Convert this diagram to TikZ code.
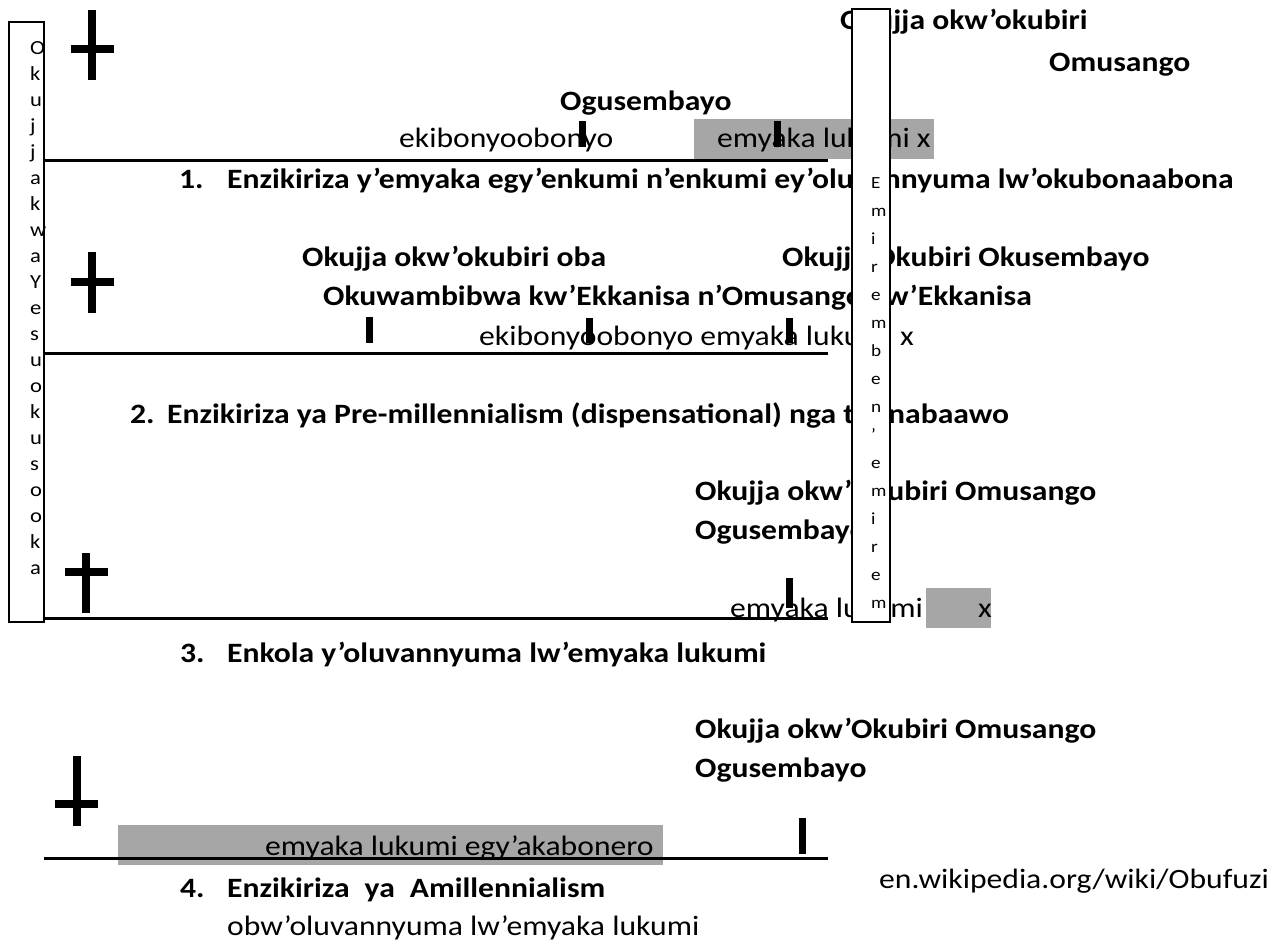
\documentclass[tikz,border=0pt]{standalone}
\usepackage{fontspec}
\setmainfont{Carlito}[FakeStretch=1.13]
\usepackage{tikz}
\usetikzlibrary{positioning}

\definecolor{greyband}{HTML}{A6A6A6}

\begin{document}
\begin{tikzpicture}[x = 1pt, y = -1pt,
    txt/.style = {anchor = base west, inner sep = 0pt, font = \fontsize{28}{34}\selectfont},
    btxt/.style = {anchor = base west, inner sep = 0pt, font = \fontsize{28}{34}\selectfont\bfseries},
    letter/.style = {anchor = base west, inner sep = 0pt, font = \fontsize{20}{22}\selectfont},
    smallletter/.style = {anchor = base west, inner sep = 0pt, font = \fontsize{17}{20}\selectfont},
    baseline rule/.style = {line width = 3pt},
    tickbar/.style = {line width = 7pt},
    crossbar/.style = {line width = 8pt},
    sidebox/.style = {line width = 2pt}]
      \useasboundingbox[fill = white] (0,0) rectangle (1273,943);

      \fill[greyband] (694,119) rectangle (934,159);
      \fill[greyband] (926,588) rectangle (991,628);
      \fill[greyband] (118,825) rectangle (663,865);

      \draw[baseline rule] (44,160) -- (828,160);
      \draw[baseline rule] (44,353) -- (828,353);
      \draw[baseline rule] (44,618) -- (828,618);
      \draw[baseline rule] (44,858) -- (828,858);

      \draw[crossbar] (92,10) -- (92,80);
      \draw[crossbar] (71,49) -- (114,49);
      \draw[crossbar] (92,252) -- (92,313);
      \draw[crossbar] (71,282) -- (114,282);
      \draw[crossbar] (86,553) -- (86,613);
      \draw[crossbar] (65,572) -- (108,572);
      \draw[crossbar] (77,756) -- (77,826);
      \draw[crossbar] (55,804) -- (98,804);

      \node[btxt] (jja1) at (840,29) {Okujja okw’okubiri};
      \node[btxt] (sango1) at (1049,71) {Omusango};
      \node[btxt] (semb1) at (560,110) {Ogusembayo};
      \node[txt] (kibo1) at (399,147) {ekibonyoobonyo};
      \node[txt] (myaka1) at (717,147) {emyaka lukumi x};
      \node[btxt] (num1) at (179,188) {1.};
      \node[btxt] (view1) at (227,188) {Enzikiriza y’emyaka egy’enkumi n’enkumi ey’oluvannyuma lw’okubonaabona};

      \node[btxt] (jja2) at (302,266) {Okujja okw’okubiri oba};
      \node[btxt] (jjb2) at (782,266) {Okujja Okubiri Okusembayo};
      \node[btxt] (wamb2) at (323,305) {Okuwambibwa kw’Ekkanisa n’Omusango kw’Ekkanisa};
      \node[txt] (kibo2) at (479,345) {ekibonyoobonyo emyaka lukumi x};
      \node[btxt] (num2) at (130,423) {2.};
      \node[btxt] (view2) at (167,423) {Enzikiriza ya Pre-millennialism (dispensational) nga tunnabaawo};

      \node[btxt] (jja3) at (695,500) {Okujja okw’Okubiri Omusango};
      \node[btxt] (semb3) at (695,539) {Ogusembayo};
      \node[txt] (myaka3) at (730,617) {emyaka lukumi};
      \node[txt] (x3) at (978,617) {x};
      \node[btxt] (num3) at (180,662) {3.};
      \node[btxt] (view3) at (227,662) {Enkola y’oluvannyuma lw’emyaka lukumi};

      \node[btxt] (jja4) at (695,738) {Okujja okw’Okubiri Omusango};
      \node[btxt] (semb4) at (695,777) {Ogusembayo};
      \node[txt] (myaka4) at (265,855) {emyaka lukumi egy’akabonero};
      \node[btxt] (num4) at (180,897) {4.};
      \node[btxt] (view4) at (227,897) {Enzikiriza\hspace{15pt}ya\hspace{15pt}Amillennialism};
      \node[txt] (view4b) at (227,935) {obw’oluvannyuma lw’emyaka lukumi};
      \node[txt] (src) at (879,888) {en.wikipedia.org/wiki/Obufuzi};

      \draw[tickbar] (582,121) -- (582,147);
      \draw[tickbar] (777,121) -- (777,147);
      \draw[tickbar] (369,317) -- (369,343);
      \draw[tickbar] (589,318) -- (589,343);
      \draw[tickbar] (789,318) -- (789,343);
      \draw[tickbar] (789,578) -- (789,608);
      \draw[tickbar] (802,818) -- (802,854);

      \draw[sidebox] (9,22) rectangle (44,622);
      \foreach \ch [count = \i from 0] in {O,k,u,j,j,a,k,w,a,Y,e,s,u,o,k,u,s,o,o,k,a}
        \node[letter] (left\i) at (30,{54+26*\i}) {\ch};

      \draw[sidebox, fill = white] (852,9) rectangle (890,622);
      \foreach \ch [count = \i from 0] in {E,m,i,r,e,m,b,e,n,’,e,m,i,r,e,m}
        \node[smallletter] (right\i) at (871,{188+28*\i}) {\ch};
\end{tikzpicture}
\end{document}
